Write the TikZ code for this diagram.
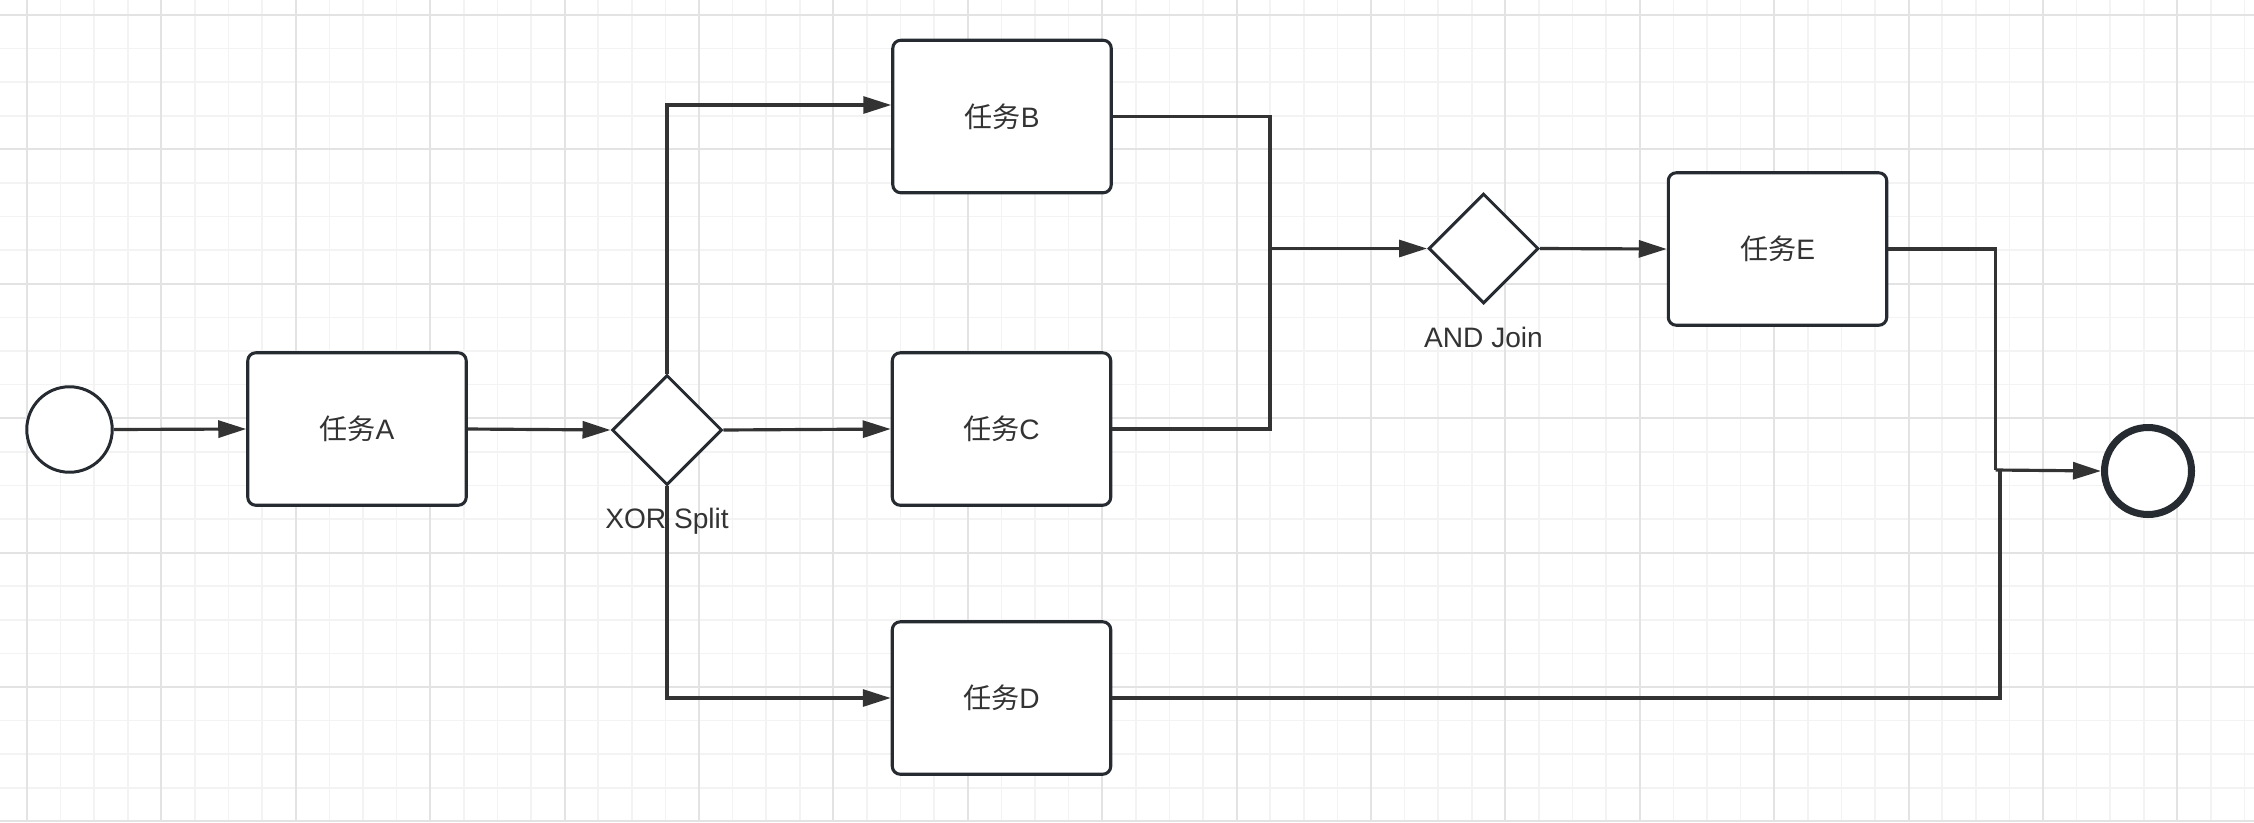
\documentclass[tikz,border=0pt]{standalone}
\usepackage{fontspec}
\setmainfont{Liberation Sans}
\newfontfamily\cjk{Noto Sans CJK SC}
\usetikzlibrary{shapes.geometric,arrows.meta,calc}

\definecolor{minorgrid}{HTML}{F3F3F3}
\definecolor{majorgrid}{HTML}{E3E3E3}
\definecolor{shapeline}{HTML}{262B31}
\definecolor{conn}{HTML}{333333}
\definecolor{txt}{HTML}{333333}

\begin{document}
\begin{tikzpicture}[x=0.02cm,y=-0.02cm,
  task/.style={draw=shapeline, line width=1.75pt, rounded corners=0.16cm, minimum width=4.37cm, minimum height=3.05cm, inner sep=0pt, fill=white, font=\fontsize{16}{19}\selectfont, text=txt},
  gate/.style={diamond, draw=shapeline, line width=1.7pt, minimum width=2.2cm, minimum height=2.2cm, inner sep=0pt, fill=white},
  startev/.style={circle, draw=shapeline, line width=1.7pt, minimum size=1.71cm, inner sep=0pt, fill=white},
  endev/.style={circle, draw=shapeline, line width=4pt, minimum size=1.74cm, inner sep=0pt, fill=white},
  flow/.style={draw=conn, line width=1.8pt, -{Triangle[length=0.56cm,width=0.34cm]}},
  plain/.style={draw=conn, line width=1.8pt},
  lbl/.style={font=\fontsize{16}{19}\selectfont, text=txt, inner sep=0pt, anchor=base},
  minorline/.style={draw=minorgrid, line width=0.9pt},
  majorline/.style={draw=majorgrid, line width=1.2pt},
]
\useasboundingbox (0,0) rectangle (2254,822);
\fill[white] (0,0) rectangle (2254,822);
\begin{scope}
\clip (0,0) rectangle (2254,822);
\foreach \i in {0,...,67} { \draw[minorline] ({27+\i*33.6},0) -- ++(0,822); }
\foreach \j in {0,...,24} { \draw[minorline] (0,{15+\j*33.6}) -- ++(2254,0); }
\foreach \i in {0,...,16} { \draw[majorline] ({27+\i*134.4},0) -- ++(0,822); }
\foreach \j in {0,...,6} { \draw[majorline] (0,{15+\j*134.4}) -- ++(2254,0); }
\end{scope}

\node[startev] (start) at (69.5,429.5) {};
\node[task] (A) at (357,429) {{\cjk 任务}A};
\node[gate] (xor) at (667,430) {};
\node[task] (B) at (1002,116.5) {{\cjk 任务}B};
\node[task] (C) at (1001.5,429) {{\cjk 任务}C};
\node[task] (D) at (1001.5,698) {{\cjk 任务}D};
\node[gate] (and) at (1483.5,248.5) {};
\node[task] (E) at (1777.5,249) {{\cjk 任务}E};
\node[endev] (end) at (2148,471) {};
\node[lbl] (xorlbl) at ($(xor.south)+(0,42)$) {XOR Split};
\node[lbl] (andlbl) at ($(and.south)+(0,43)$) {AND Join};
\coordinate (mj) at (1270,248.5);
\coordinate (ej) at (1995.5,470);
\coordinate (dj) at (2000,470);

\draw[flow] (start.east) -- (A.west);
\draw[flow] (A.east) -- (xor.west);
\draw[flow] (xor.east) -- (C.west);
\draw[flow] (xor.north) |- ([yshift=0.23cm]B.west);
\draw[flow] (xor.south) |- (D.west);
\draw[plain] (B.east) -| (mj);
\draw[plain] (C.east) -| (mj);
\draw[flow] (mj) -- (and.west);
\draw[flow] (and.east) -- (E.west);
\draw[plain] (E.east) -| (ej);
\draw[flow] (ej) -- (end.west);
\draw[plain] (D.east) -| (dj);
\end{tikzpicture}
\end{document}
